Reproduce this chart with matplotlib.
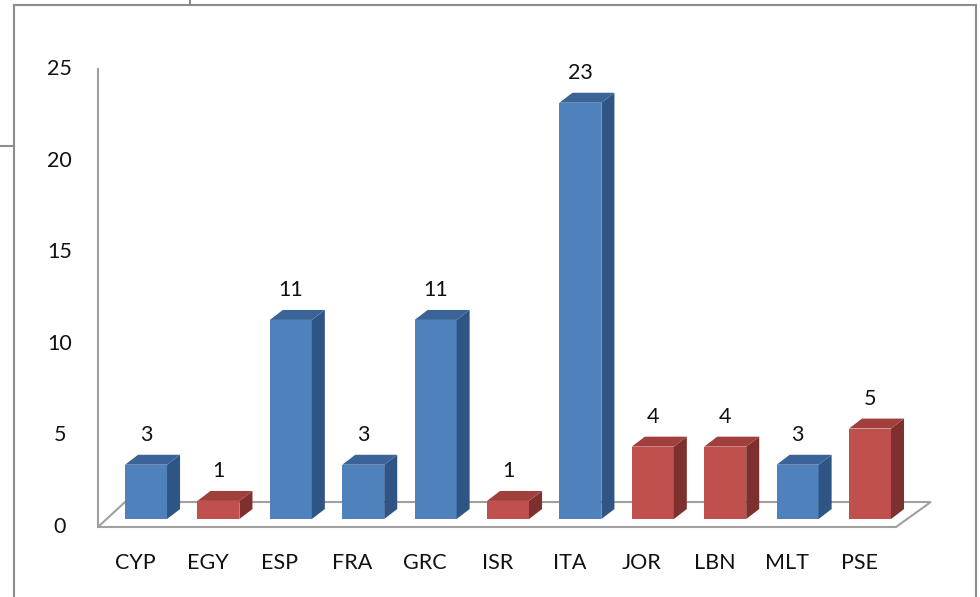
import numpy as np
import matplotlib.pyplot as plt
from matplotlib.patches import Polygon
from matplotlib.lines import Line2D

plt.rcParams['font.family'] = ['Lato', 'DejaVu Sans']

countries = ['CYP', 'EGY', 'ESP', 'FRA', 'GRC', 'ISR', 'ITA', 'JOR', 'LBN', 'MLT', 'PSE']
counts = [3, 1, 11, 3, 11, 1, 23, 4, 4, 3, 5]
group = ['b', 'r', 'b', 'b', 'b', 'r', 'b', 'r', 'r', 'b', 'r']
yticks = [0, 5, 10, 15, 20, 25]

colors = {'b': ('#4F81BD', '#3A6498', '#2F5584'),
          'r': ('#C0504D', '#A13F3C', '#7E302E')}

fig = plt.figure(figsize=(9.8, 5.97), dpi=100)
ax = fig.add_axes([0.0899, 0.1003, 0.8865, 0.8186])
ax.set_xlim(-0.8, 11.2)
ax.set_ylim(-1, 26)
ax.axis('off')

w = 0.58      # bar width (category units)
ddx = 0.18    # depth offset x
ddy = 0.55    # depth offset y

# floor
floor = Polygon([(-0.663, -0.44), (10.36, -0.44), (10.84, 0.94), (-0.29, 0.94)],
                closed=True, facecolor='white', edgecolor='#A0A0A0', lw=1.5, zorder=1)
ax.add_patch(floor)
# value axis
ax.plot([-0.663, -0.663], [-0.44, 24.86], color='#A0A0A0', lw=1.5, zorder=1)

x = np.arange(len(countries))
for i, (v, g) in enumerate(zip(counts, group)):
    front, top, side = colors[g]
    x0 = x[i] - w / 2
    x1 = x[i] + w / 2
    ax.bar(x[i], v, width=w, color=front, zorder=3)
    ax.add_patch(Polygon([(x1, 0), (x1 + ddx, ddy), (x1 + ddx, v + ddy), (x1, v)],
                         closed=True, facecolor=side, edgecolor='none', zorder=3))
    ax.add_patch(Polygon([(x0, v), (x1, v), (x1 + ddx, v + ddy), (x0 + ddx, v + ddy)],
                         closed=True, facecolor=top, edgecolor='none', zorder=3))
    ax.text(x[i], v + 1.65, str(v), ha='center', va='center', fontsize=15.5,
            color='#111111', zorder=4)
    ax.text(x[i] - 0.15, -2.45, countries[i], ha='center', va='center', fontsize=15.5,
            color='#111111', clip_on=False)

for t in yticks:
    ax.text(-1.19, (t * 18.32 - 8) / 18.1, str(t), ha='center', va='center',
            fontsize=15.5, color='#111111', clip_on=False)

# outer frame lines
fc = '#8C8C8C'
fig.add_artist(Line2D([14 / 980, 14 / 980], [0, 1 - 5 / 597], color=fc, lw=1.5))
fig.add_artist(Line2D([14 / 980, 976 / 980], [1 - 5 / 597, 1 - 5 / 597], color=fc, lw=1.5))
fig.add_artist(Line2D([976 / 980, 976 / 980], [0, 1 - 5 / 597], color=fc, lw=1.5))
fig.add_artist(Line2D([0, 14 / 980], [1 - 146 / 597, 1 - 146 / 597], color=fc, lw=1.5))
fig.add_artist(Line2D([190 / 980, 190 / 980], [1 - 5 / 597, 1], color=fc, lw=1.5))

fig.savefig('out.png', dpi=100)
